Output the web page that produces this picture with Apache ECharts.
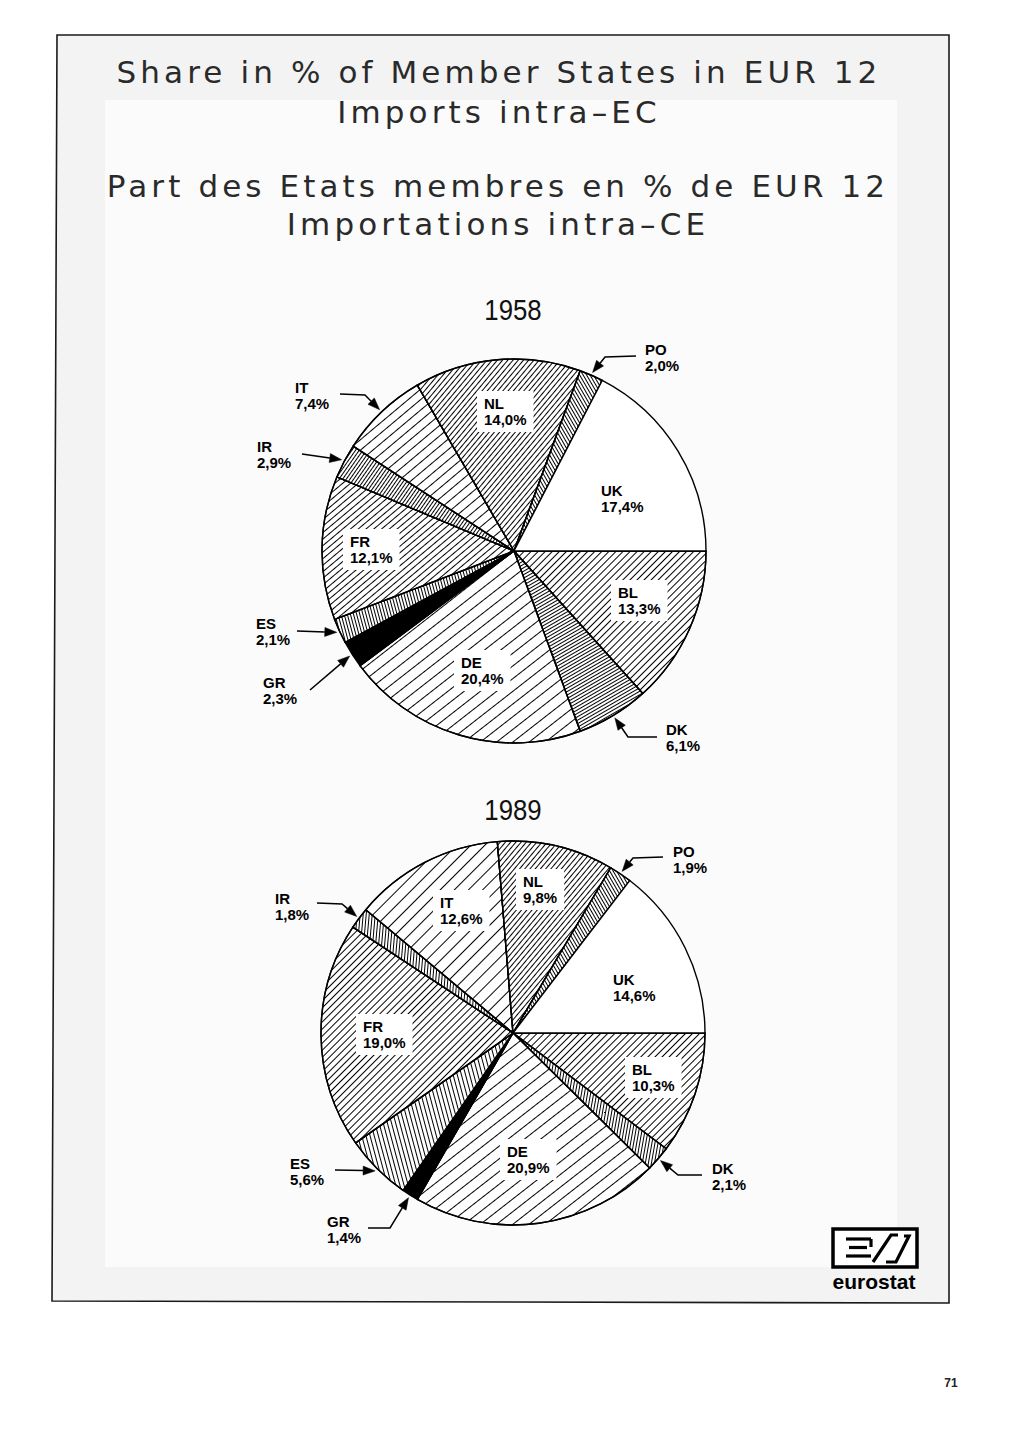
<!DOCTYPE html>
<html><head><meta charset="utf-8">
<script src="https://cdn.jsdelivr.net/npm/echarts@6/dist/echarts.min.js"></script>
<style>
html,body{margin:0;padding:0;background:#fff}
#main{width:1024px;height:1448px}
#main text[style*="zzTitle"]{letter-spacing:4.1px}
</style></head><body><div id="main"></div>
<script>
// ---------- data ----------
const titleLines = ['Share in % of Member States in EUR 12', 'Imports intra–EC',
                    'Part des Etats membres en % de EUR 12', 'Importations intra–CE'];
const years = ['1958', '1989'];
const countries = ['BL', 'DK', 'DE', 'GR', 'ES', 'FR', 'IR', 'IT', 'NL', 'PO', 'UK'];
const share1958 = [13.3, 6.1, 20.4, 2.3, 2.1, 12.1, 2.9, 7.4, 14.0, 2.0, 17.4];
const share1989 = [10.3, 2.1, 20.9, 1.4, 5.6, 19.0, 1.8, 12.6, 9.8, 1.9, 14.6];
const pageNumber = '71';
const logoText = 'eurostat';

// ---------- layout / style ----------
const R = 192;
const centers = [[514, 551], [513, 1033]];
const labelFont = "'Liberation Sans',Arial,sans-serif";
// hatch: dir = visual line direction in degrees (ccw from horizontal), gap in px
const hatches = [
  {BL:{dir:45,gap:4}, DK:{dir:30,gap:2}, DE:{dir:38,gap:9}, GR:'solid', ES:{dir:-75,gap:2},
   FR:{dir:40,gap:4}, IR:{dir:55,gap:2}, IT:{dir:40,gap:7}, NL:{dir:50,gap:3}, PO:{dir:-60,gap:2}, UK:null},
  {BL:{dir:45,gap:4}, DK:{dir:80,gap:2}, DE:{dir:38,gap:9}, GR:'solid', ES:{dir:-75,gap:3},
   FR:{dir:45,gap:4}, IR:{dir:85,gap:2}, IT:{dir:45,gap:9}, NL:{dir:50,gap:3}, PO:{dir:-60,gap:2}, UK:null}
];
// label text top-left (cap top)
const labelPos = [
  {NL:[484,398], UK:[601,485], BL:[618,587], DE:[461,657], FR:[350,536], PO:[645,344],
   IT:[295,382], IR:[257,441], ES:[256,618], GR:[263,677], DK:[666,724]},
  {IT:[440,897], NL:[523,876], PO:[673,846], IR:[275,893], UK:[613,974], FR:[363,1021],
   BL:[632,1064], DE:[507,1146], ES:[290,1158], GR:[327,1216], DK:[712,1163]}
];
const insideSets = [['NL','UK','BL','DE','FR'], ['IT','NL','UK','FR','BL','DE']];
// arrow tails / elbows (tips computed from data)
const arrowPaths = [
  {PO:[[636,356],[605,357]], IT:[[340,394],[365,395]], IR:[[302,454]], ES:[[297,631]],
   GR:[[310,690]], DK:[[657,737],[628,737]]},
  {PO:[[663,857],[633,858]], IR:[[317,903],[342,904]], ES:[[335,1170]],
   GR:[[368,1228],[390,1228]], DK:[[702,1175],[678,1175]]}
];

function decalFor(h) {
  return {symbol:'rect', symbolSize:1, dashArrayX:[1,0], dashArrayY:[1,h.gap],
          rotation:-h.dir*Math.PI/180, color:'#000', backgroundColor:'#fff'};
}
function fmt(p) { return p.name + '\n' + p.value.toFixed(1).replace('.', ',') + '%'; }

function pieSeries(k, values) {
  const hatch = hatches[k], pos = labelPos[k], inside = insideSets[k];
  const padIn = [4,7], padOut = [4,0];
  return {
    type:'pie', center:centers[k], radius:R, startAngle:0, clockwise:true,
    avoidLabelOverlap:false, animation:false, silent:true,
    emphasis:{disabled:true},
    itemStyle:{borderColor:'#000', borderWidth:1.4, color:'#fff'},
    label:{show:true, position:'outside', formatter:fmt, color:'#000', fontFamily:labelFont,
           fontSize:15, fontWeight:'bold', lineHeight:16.5, align:'left'},
    labelLine:{show:false},
    labelLayout: function (p) {
      const c = countries[p.dataIndex];
      const isIn = inside.indexOf(c) >= 0;
      const pad = isIn ? padIn : padOut;
      const xy = pos[c];
      return {x: xy[0] - pad[1], y: xy[1] - pad[0] - 3, align:'left', verticalAlign:'top'};
    },
    data: countries.map(function (c, i) {
      const h = hatch[c];
      const item = {name:c, value:values[i]};
      if (h === 'solid') item.itemStyle = {color:'#000'};
      else if (h) item.itemStyle = {color:'#fff', decal:decalFor(h)};
      const isIn = inside.indexOf(c) >= 0;
      item.label = isIn ? {backgroundColor:'#fff', padding:padIn} : {padding:padOut};
      return item;
    })
  };
}

function edgePoint(values, idx, c, r) {
  let total = 0, before = 0;
  values.forEach(function (v, i) { total += v; if (i < idx) before += v; });
  const a = (before + values[idx] / 2) / total * 2 * Math.PI;
  return [c[0] + r * Math.cos(a), c[1] + r * Math.sin(a)];
}

function arrowGraphics(k, values) {
  const out = [];
  Object.keys(arrowPaths[k]).forEach(function (c) {
    const tip = edgePoint(values, countries.indexOf(c), centers[k], R + 3);
    const pts = arrowPaths[k][c].slice();
    const prev = pts[pts.length - 1];
    const dx = tip[0] - prev[0], dy = tip[1] - prev[1];
    const L = Math.sqrt(dx*dx + dy*dy), ux = dx / L, uy = dy / L;
    const hl = 12, hw = 4.5;
    const base = [tip[0] - ux*hl, tip[1] - uy*hl];
    pts.push(base);
    out.push({type:'polyline', z:20, shape:{points:pts}, style:{stroke:'#000', lineWidth:1.5, fill:null}});
    out.push({type:'polygon', z:20, shape:{points:[tip, [base[0] - uy*hw, base[1] + ux*hw], [base[0] + uy*hw, base[1] - ux*hw]]},
              style:{fill:'#000', stroke:'#000', lineWidth:0.5}});
  });
  return out;
}

const titleY = [72, 112, 186, 224];
const titleX = [499, 499, 498, 498];
const graphics = [
  {type:'polygon', z:-10, shape:{points:[[57,35],[949,35],[949,1303],[52,1301]]},
   style:{fill:'#f3f3f3', stroke:'#1a1a1a', lineWidth:1.6}},
  {type:'rect', z:-9, shape:{x:105, y:100, width:792, height:1167}, style:{fill:'#fbfbfb'}}
];
titleLines.forEach(function (t, i) {
  graphics.push({type:'text', z:5, style:{text:t, x:titleX[i], y:titleY[i], align:'center', verticalAlign:'middle',
    fill:'#2a2a2a', fontSize:31, fontWeight:'normal', fontFamily:"'DejaVu Sans', zzTitle"}});
});
years.forEach(function (y, k) {
  graphics.push({type:'text', z:5, x:513, y:[310, 810][k], scaleX:0.86, style:{text:y, x:0, y:0, align:'center', verticalAlign:'middle',
    fill:'#111', fontSize:30, fontFamily:"'Liberation Sans',Arial,sans-serif"}});
});
graphics.push.apply(graphics, arrowGraphics(0, share1958));
graphics.push.apply(graphics, arrowGraphics(1, share1989));
// eurostat logo
graphics.push({type:'rect', z:5, shape:{x:833, y:1229, width:84, height:38}, style:{fill:'#fff', stroke:'#000', lineWidth:3.5}});
[[[846,1239],[871,1239]], [[849,1247.5],[867,1247.5]], [[846,1256],[871,1256]], [[871,1239],[871,1247]],
 [[873,1262],[891,1235],[898,1235]], [[886,1262],[896,1262],[909,1236],[904,1236]]].forEach(function (p) {
  graphics.push({type:'polyline', z:6, shape:{points:p}, style:{stroke:'#000', lineWidth:3.2, fill:null}});
});
graphics.push({type:'text', z:6, style:{text:logoText, x:874, y:1281, align:'center', verticalAlign:'middle',
  fill:'#000', fontSize:21, fontWeight:'bold', fontFamily:"'Liberation Sans',sans-serif"}});
graphics.push({type:'text', z:6, style:{text:pageNumber, x:951, y:1383, align:'center', verticalAlign:'middle',
  fill:'#222', fontSize:12, fontWeight:'bold', fontFamily:"'Liberation Sans',sans-serif"}});

const chart = echarts.init(document.getElementById('main'), null, {renderer:'svg', width:1024, height:1448});
chart.setOption({
  backgroundColor:'#ffffff',
  animation:false,
  graphic:{elements:graphics},
  series:[pieSeries(0, share1958), pieSeries(1, share1989)]
});
</script></body></html>
